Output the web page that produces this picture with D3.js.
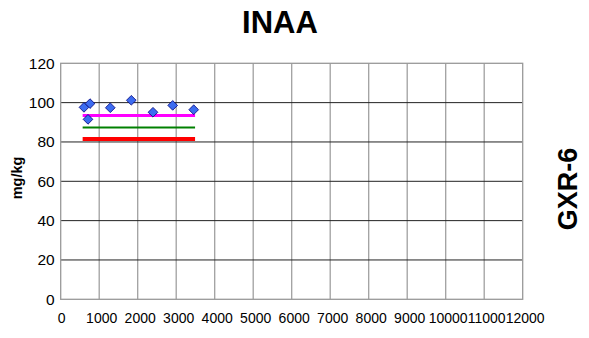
<!DOCTYPE html>
<html><head><meta charset="utf-8">
<script src="https://cdn.jsdelivr.net/npm/d3@7"></script>
<style>body{margin:0;background:#fff}svg{display:block;font-family:Arial,"Liberation Sans",sans-serif}</style>
</head><body><svg id="c" width="589" height="338"></svg>
<script>
const title = "INAA";
const sideLabel = "GXR-6";
const yLabel = "mg/kg";
const xTicks = [0,1000,2000,3000,4000,5000,6000,7000,8000,9000,10000,11000,12000];
const yTicks = [0,20,40,60,80,100,120];
const pointX = [605, 761, 709, 1288, 1834, 2397, 2909, 3455];
const pointY = [97.6, 99.5, 91.5, 97.4, 101.2, 95.1, 98.6, 96.4];
const refNames = ["magenta", "green", "red"];
const refValues = [93.4, 87.3, 81.5];
const refColors = ["#ff00ff", "#008000", "#ff0000"];
const refWidths = [3, 2, 4];
const refXRange = [570, 3490];

const svg = d3.select("#c");
const L = 60.7, R = 522.7, T = 63.3, B = 299.3;
const x = d3.scaleLinear().domain([0, 12000]).range([L, R]);
const y = d3.scaleLinear().domain([0, 120]).range([B, T]);

// vertical gridlines
svg.append("g").selectAll("line").data(xTicks.slice(1, -1)).join("line")
  .attr("x1", d => x(d)).attr("x2", d => x(d)).attr("y1", T).attr("y2", B)
  .attr("stroke", "#a0a0a0").attr("stroke-width", 1.3);
// horizontal gridlines
svg.append("g").selectAll("line").data(yTicks.slice(1, -1)).join("line")
  .attr("x1", L).attr("x2", R).attr("y1", d => y(d)).attr("y2", d => y(d))
  .attr("stroke", "#222").attr("stroke-width", 1);
// plot border
svg.append("rect").attr("x", L).attr("y", T).attr("width", R - L).attr("height", B - T)
  .attr("fill", "none").attr("stroke", "#999").attr("stroke-width", 1.3);

// y tick labels
svg.append("g").selectAll("text").data(yTicks).join("text")
  .attr("x", L - 6).attr("y", d => y(d)).attr("dy", "0.35em")
  .attr("text-anchor", "end").attr("font-size", 15.5).attr("fill", "#000").text(d => d);
// x tick labels
svg.append("g").selectAll("text").data(xTicks).join("text")
  .attr("x", d => x(d) + (d ? 2.5 : 1)).attr("y", 318).attr("dy", "0.35em")
  .attr("text-anchor", "middle").attr("font-size", 14).attr("fill", "#000").text(d => d);

// reference lines
svg.append("g").selectAll("line").data(refValues).join("line")
  .attr("x1", x(refXRange[0])).attr("x2", x(refXRange[1]))
  .attr("y1", d => y(d)).attr("y2", d => y(d))
  .attr("stroke", (d, i) => refColors[i]).attr("stroke-width", (d, i) => refWidths[i]);

// points
const diamond = d3.symbol().type(d3.symbolDiamond2).size(60);
svg.append("g").selectAll("path").data(pointX).join("path")
  .attr("transform", (d, i) => `translate(${x(d)},${y(pointY[i])})`)
  .attr("d", diamond).attr("fill", "#3c6cf0").attr("stroke", "#00007a").attr("stroke-width", 0.8);

// titles
svg.append("text").attr("x", 280).attr("y", 33).attr("text-anchor", "middle")
  .attr("font-size", 31).attr("font-weight", "bold").text(title);
svg.append("text").attr("transform", "translate(577,189) rotate(-90)").attr("text-anchor", "middle")
  .attr("font-size", 27).attr("font-weight", "bold").text(sideLabel);
svg.append("text").attr("transform", "translate(22,178) rotate(-90)").attr("text-anchor", "middle")
  .attr("font-size", 14.5).attr("font-weight", "bold").text(yLabel);
</script></body></html>
